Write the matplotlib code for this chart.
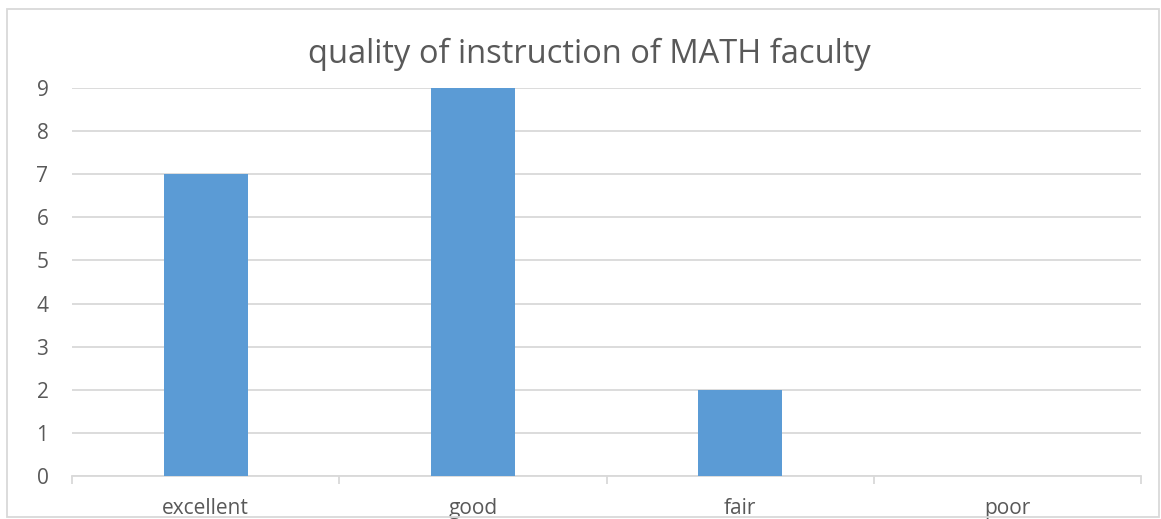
import matplotlib.pyplot as plt
from matplotlib.patches import Rectangle

categories = ['excellent', 'good', 'fair', 'poor']
counts = [7, 9, 2, 0]
y_ticks = [0, 1, 2, 3, 4, 5, 6, 7, 8, 9]

W, H = 1161, 519
fig = plt.figure(figsize=(W / 100, H / 100), dpi=100)
plt.rcParams['font.family'] = ['Open Sans', 'DejaVu Sans']

# plot area in pixels: x 72..1141, y 88..476
ax = fig.add_axes([72 / W, 1 - 476 / H, (1141 - 72) / W, (476 - 88) / H])

x = list(range(len(categories)))
ax.bar(x, counts, width=0.315, color='#5b9bd5', zorder=3)

ax.set_xlim(-0.5, len(categories) - 0.5)
ax.set_ylim(0, 9)
ax.set_yticks(y_ticks)
ax.set_yticklabels([str(v) for v in y_ticks])
ax.grid(axis='y', color='#d9d9d9', linewidth=1.3, zorder=0)

ax.set_xticks([i - 0.5 for i in range(len(categories) + 1)], minor=False)
ax.set_xticklabels([''] * (len(categories) + 1))
ax.set_xticks(x, minor=True)
ax.set_xticklabels(categories, minor=True)
ax.tick_params(axis='x', which='major', length=6, color='#d9d9d9', width=1.3)
ax.tick_params(axis='x', which='minor', length=0, pad=16, labelsize=15, labelcolor='#595959')
ax.tick_params(axis='y', length=0, pad=17, labelsize=15, labelcolor='#595959')

for s in ['top', 'right', 'left']:
    ax.spines[s].set_visible(False)
ax.spines['bottom'].set_color('#d9d9d9')
ax.spines['bottom'].set_linewidth(1.3)

fig.text(589 / W, 1 - 54 / H, 'quality of instruction of MATH faculty',
         ha='center', va='center', fontsize=23.5, color='#595959')

fig.patches.append(Rectangle((7 / W, 1 - 517 / H), (1159 - 7) / W, (517 - 9) / H,
                             transform=fig.transFigure, fill=False,
                             edgecolor='#d9d9d9', linewidth=1.3))

fig.savefig('out.png', dpi=100)
